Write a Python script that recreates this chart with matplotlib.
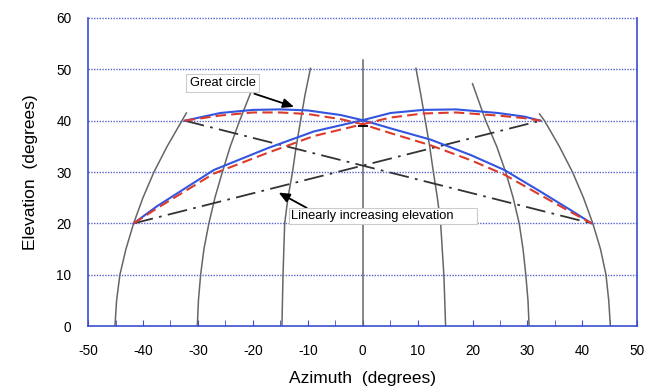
import matplotlib
matplotlib.use("Agg")
import matplotlib.pyplot as plt

plt.rcParams['font.family'] = ['Liberation Sans', 'DejaVu Sans']
plt.rcParams['axes.unicode_minus'] = False

# --- lignes d'azimut constant (gris): (azimut, élévation)
az_m45 = [-45.1, -44.8, -44.2, -43.1, -41.7, -40.0, -38.0, -35.6, -32.9, -32.1]
el_m45 = [0, 5, 10, 15, 20, 25, 30, 35, 40, 41.5]
az_m30 = [-30.1, -29.9, -29.5, -28.9, -28.0, -26.9, -25.6, -24.1, -22.4, -20.4]
el_m30 = [0, 5, 10, 15, 20, 25, 29.8, 35, 40, 45.4]
az_m15 = [-14.7, -14.5, -14.2, -13.6, -12.8, -12.1, -11.3, -10.5, -9.5]
el_m15 = [0, 10, 20, 25, 29.8, 35, 40, 45, 50.2]
az_0 = [0, 0]
el_0 = [0, 51.9]
az_p15 = [15.1, 14.8, 14.2, 13.6, 12.9, 12.2, 11.4, 10.6, 9.7]
el_p15 = [0, 9.6, 20, 25, 29.8, 35, 40, 45, 50.2]
az_p30 = [30.3, 30.1, 29.7, 29.2, 28.5, 27.4, 26.1, 24.4, 22.4, 20.0]
el_p30 = [0, 5, 10, 15, 20, 25, 29.8, 35, 40, 47.2]
az_p45 = [45.1, 44.8, 44.3, 43.3, 41.9, 40.2, 38.2, 35.8, 33.1, 32.2]
el_p45 = [0, 5, 10, 15, 20, 25, 30, 35, 40, 41.3]

# --- grands cercles (bleu) et trajectoires voisines (rouge, tirets)
gc1_az = [-32.4, -25.9, -20, -15, -10, -4, 0, 5.1, 12.4, 19.7, 25.8, 31.9, 37.4, 41.7]
gc1_el = [40, 41.5, 42.1, 42.2, 42.0, 41.1, 40.1, 38.5, 36.3, 33.3, 30.4, 26.5, 22.9, 20]
gc2_az = [-41.7, -37.5, -27.1, -17.4, -8.9, 0, 5.1, 11, 17, 24.6, 29.4, 32.4]
gc2_el = [20, 23.3, 30.4, 34.6, 37.9, 40.1, 41.5, 42.1, 42.2, 41.5, 40.8, 40]

red1_az = [-32.4, -26, -20, -15, -10, -4, 0, 5, 12.4, 19.7, 25.8, 31.9, 37.4, 41.7]
red1_el = [40, 41.0, 41.6, 41.6, 41.3, 40.3, 39.3, 37.6, 35.2, 32.3, 29.5, 25.8, 22.5, 20]
red2_az = [-41.7, -37.5, -27.1, -17.4, -8.9, 0, 5, 11, 17, 24.6, 29.4, 32.4]
red2_el = [20, 22.9, 29.7, 33.7, 37.0, 39.3, 40.6, 41.4, 41.6, 41.0, 40.5, 40]

# --- élévation linéairement croissante (tiret-point)
lin1_az = [-32.4, 41.7]
lin1_el = [40, 20]
lin2_az = [-41.7, 32.4]
lin2_el = [20, 40]

x_ticks = [-50, -40, -30, -20, -10, 0, 10, 20, 30, 40, 50]
y_ticks = [0, 10, 20, 30, 40, 50, 60]

BLUE_AX = '#3a4fcf'
GREY = '#666666'

fig = plt.figure(figsize=(6.57, 3.91), dpi=100)
ax = fig.add_axes([0.134, 0.166, 0.836, 0.788])

# grille pointillée
for y in y_ticks[1:]:
    ax.axhline(y, color='#5566cc', lw=1.0, ls=(0, (1, 1)), zorder=1, clip_on=False)

for az, el in [(az_m45, el_m45), (az_m30, el_m30), (az_m15, el_m15), (az_0, el_0),
               (az_p15, el_p15), (az_p30, el_p30), (az_p45, el_p45)]:
    ax.plot(az, el, color=GREY, lw=1.1, zorder=2)

dashdot = (0, (11, 3.5, 1.5, 3.5))
ax.plot(lin1_az, lin1_el, color='#333333', lw=1.3, ls=dashdot, zorder=3)
ax.plot(lin2_az, lin2_el, color='#333333', lw=1.3, ls=dashdot, zorder=3)

ax.plot(gc1_az, gc1_el, color='#3355e0', lw=1.5, zorder=4)
ax.plot(gc2_az, gc2_el, color='#3355e0', lw=1.5, zorder=4)
ax.plot(red1_az, red1_el, color='#dd3b2a', lw=1.5, ls=(0, (5, 2.5)), zorder=5)
ax.plot(red2_az, red2_el, color='#dd3b2a', lw=1.5, ls=(0, (5, 2.5)), zorder=5)
ax.plot([0], [38.9], marker='_', color='black', ms=7, mew=1.3, zorder=6)

# annotations
ax.annotate('Great circle', xy=(-12.5, 42.7), xytext=(-25.5, 47.3),
            ha='center', va='center', fontsize=9.3,
            bbox=dict(boxstyle='square,pad=0.25', fc='white', ec='#cccccc', lw=0.8),
            arrowprops=dict(arrowstyle='-|>,head_length=0.7,head_width=0.3',
                            color='black', lw=1.3, shrinkA=2, shrinkB=0),
            zorder=7)
ax.annotate('Linearly increasing elevation      ', xy=(-15.3, 26.0), xytext=(-13.1, 21.4),
            ha='left', va='center', fontsize=9.3,
            bbox=dict(boxstyle='square,pad=0.15', fc='white', ec='#cccccc', lw=0.8),
            arrowprops=dict(arrowstyle='-|>,head_length=0.7,head_width=0.3',
                            color='black', lw=1.3, shrinkA=0, shrinkB=0,
                            relpos=(0.11, 1.0)),
            zorder=7)

ax.set_xlim(-50, 50)
ax.set_ylim(0, 60)
ax.set_xticks(x_ticks)
ax.set_xticks(range(-45, 50, 10), minor=True)
ax.set_yticks(y_ticks)
ax.tick_params(axis='x', which='both', direction='in', length=4, color=BLUE_AX,
               labelsize=9.8, pad=13)
ax.tick_params(axis='y', direction='in', length=0, labelsize=9.8, pad=12)

for side in ['left', 'right', 'bottom']:
    ax.spines[side].set_color(BLUE_AX)
    ax.spines[side].set_linewidth(1.2)
ax.spines['top'].set_visible(False)

ax.set_xlabel('Azimuth  (degrees)', fontsize=12.5, labelpad=9)
ax.set_ylabel('Elevation  (degrees)', fontsize=12.5, labelpad=13)

fig.savefig('out.png', dpi=100)
